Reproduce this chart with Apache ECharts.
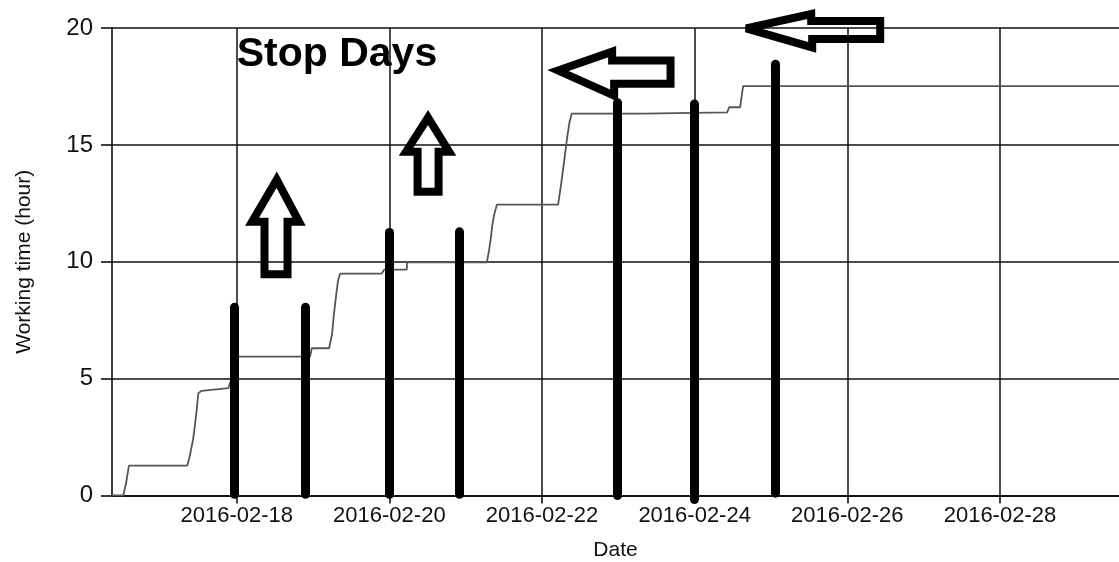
<!DOCTYPE html>
<html>
<head>
<meta charset="utf-8">
<script src="https://cdn.jsdelivr.net/npm/echarts@6/dist/echarts.min.js"></script>
<style>
html,body{margin:0;padding:0;background:#fff;}
#chart{width:1119px;height:562px;}
</style>
</head>
<body>
<div id="chart"></div>
<script>
// x values are days of February 2016 (e.g. 18.5 = 2016-02-18 12:00)
const xTickValues = [18, 20, 22, 24, 26, 28];
const xTickLabels = ['2016-02-18', '2016-02-20', '2016-02-22', '2016-02-24', '2016-02-26', '2016-02-28'];
const xMin = 16.366;
const xMax = 29.56;

// cumulative working time (step line)
const workDays = [16.366,16.514,16.529,16.549,16.569,16.588,17.353,17.388,17.431,17.453,17.476,17.497,17.541,17.890,17.921,17.938,17.991,18.961,18.983,19.210,19.249,19.269,19.289,19.308,19.328,19.354,19.900,19.930,20.228,20.232,21.277,21.307,21.329,21.346,21.372,21.408,22.211,22.250,22.290,22.329,22.362,22.391,23.325,23.351,24.426,24.452,24.596,24.635,30];
const workHours = [0,0,0,0.5,0.9,1.28,1.28,1.73,2.45,3.02,3.66,4.38,4.48,4.59,4.87,4.9,5.94,5.94,6.30,6.30,6.9,7.6,8.2,8.7,9.2,9.49,9.49,9.66,9.66,9.97,9.97,10.5,11.0,11.5,12.0,12.44,12.44,13.3,14.3,15.3,16.0,16.34,16.34,16.39,16.39,16.61,16.61,17.51,17.51];

// stop days (thick vertical marks)
const stopDays = [17.97, 18.90, 20.0, 20.91, 22.99, 24.0, 25.05];
const stopTops = [8.05, 8.05, 11.25, 11.28, 16.8, 16.75, 18.45];
const stopBottoms = [0.05, 0.05, 0.05, 0.05, 0.0, -0.17, 0.1];

// annotation arrows in data coordinates [day, hours]
const arrowUp1 = [[18.524,13.51],[18.817,11.71],[18.666,11.71],[18.666,9.46],[18.364,9.46],[18.364,11.71],[18.201,11.71]];
const arrowUp2 = [[20.507,16.17],[20.783,14.71],[20.645,14.71],[20.645,12.99],[20.370,12.99],[20.370,14.71],[20.219,14.71]];
const arrowLeft1 = [[22.211,18.18],[22.919,18.99],[22.919,18.61],[23.684,18.61],[23.684,17.62],[22.945,17.62],[22.945,17.11]];
const arrowLeft2 = [[24.675,19.98],[25.527,20.60],[25.527,20.30],[26.431,20.30],[26.431,19.53],[25.540,19.53],[25.540,19.17]];
const annotationText = 'Stop Days';
const annotationPos = [18.0, 18.85];

const FONT = "'Liberation Sans', Arial, sans-serif";
const chart = echarts.init(document.getElementById('chart'), null, {renderer: 'canvas'});

const stepData = workDays.map((d, i) => [d, workHours[i]]);
const stopData = stopDays.map((d, i) => ({coords: [[d, stopBottoms[i]], [d, stopTops[i]]]}));

chart.setOption({
  animation: false,
  backgroundColor: '#fff',
  grid: {left: 112, top: 28, right: 0, bottom: 66.5, containLabel: false, outerBoundsMode: 'none'},
  xAxis: {
    type: 'value',
    min: xMin,
    max: xMax,
    name: 'Date',
    nameLocation: 'middle',
    nameGap: 44,
    nameTextStyle: {fontFamily: FONT, fontSize: 21, color: '#111'},
    axisLine: {show: true, lineStyle: {color: '#000', width: 1.5}},
    axisTick: {show: true, length: 8, inside: false, customValues: xTickValues, lineStyle: {color: '#000', width: 1.5}},
    axisLabel: {
      customValues: xTickValues,
      margin: 9,
      fontFamily: FONT, fontSize: 22, color: '#111',
      formatter: v => xTickLabels[xTickValues.indexOf(Math.round(v))] || ''
    },
    splitLine: {show: true, lineStyle: {color: '#111', width: 1.5}}
  },
  yAxis: {
    type: 'value',
    min: 0, max: 20, interval: 5,
    name: 'Working time (hour)',
    nameLocation: 'middle',
    nameGap: 77,
    nameRotate: 90,
    nameTextStyle: {fontFamily: FONT, fontSize: 21, color: '#111'},
    axisLine: {show: true, lineStyle: {color: '#000', width: 1.5}},
    axisTick: {show: true, length: 11, inside: false, lineStyle: {color: '#000', width: 1.5}},
    axisLabel: {margin: 19, fontFamily: FONT, fontSize: 24, color: '#111'},
    splitLine: {show: true, lineStyle: {color: '#111', width: 1.5}}
  },
  series: [
    {
      type: 'line',
      data: stepData,
      showSymbol: false,
      clip: true,
      lineStyle: {color: '#555', width: 1.8},
      z: 3
    },
    {
      type: 'lines',
      coordinateSystem: 'cartesian2d',
      data: stopData,
      clip: false,
      lineStyle: {color: '#000', width: 9, cap: 'round', opacity: 1},
      z: 5
    }
  ]
});

function toPx(p) { return chart.convertToPixel({gridIndex: 0}, p); }
const arrows = [arrowUp1, arrowUp2, arrowLeft1, arrowLeft2];
const graphics = arrows.map(a => ({
  type: 'polygon',
  shape: {points: a.map(toPx)},
  style: {fill: 'none', stroke: '#000', lineWidth: 8, lineJoin: 'miter', miterLimit: 4},
  z: 10
}));
const tp = toPx(annotationPos);
graphics.push({
  type: 'text',
  x: tp[0], y: tp[1],
  style: {text: annotationText, font: 'bold 41px ' + FONT, fill: '#000', align: 'left', verticalAlign: 'middle'},
  z: 10
});
chart.setOption({graphic: graphics});
</script>
</body>
</html>
